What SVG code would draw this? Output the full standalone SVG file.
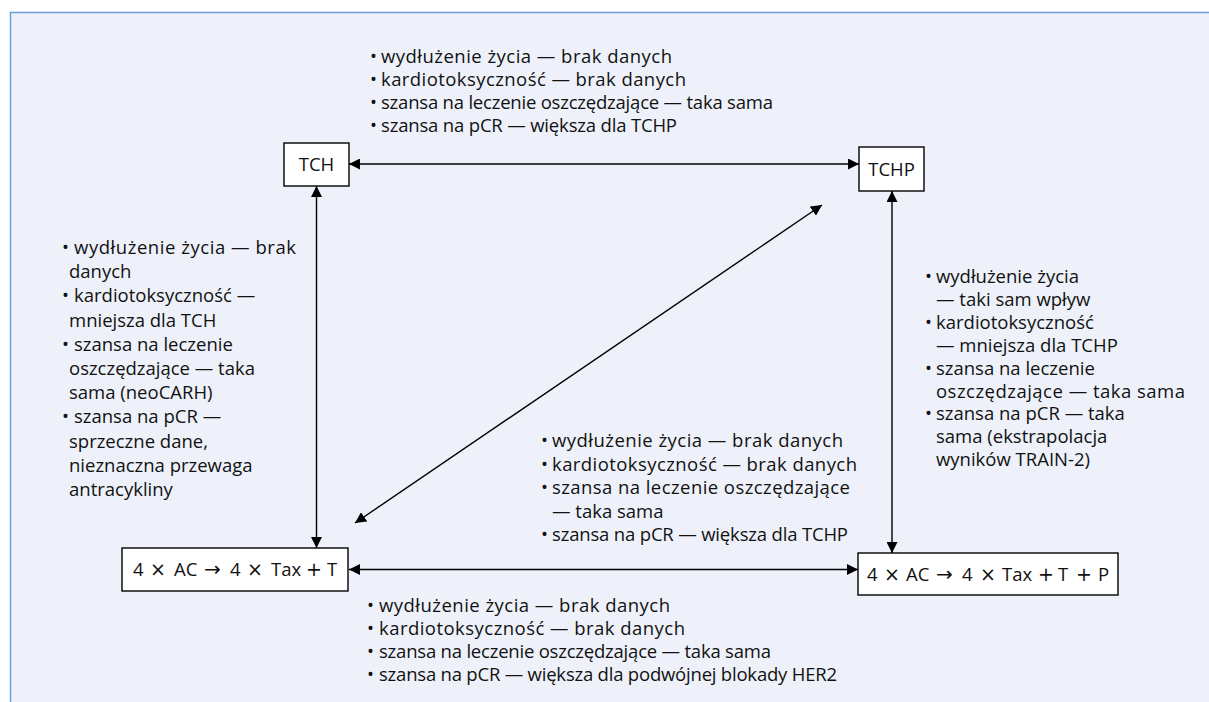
<svg xmlns="http://www.w3.org/2000/svg" width="1209" height="702" viewBox="0 0 1209 702">
  <defs>
    <marker id="arrow" markerUnits="userSpaceOnUse" markerWidth="12" markerHeight="11" refX="11" refY="5.5" orient="auto-start-reverse">
      <path d="M0,0 L11,5.5 L0,11 z" fill="#000"/>
    </marker>
    <style>
      text { font-family: "Open Sans", "Noto Sans", "Liberation Sans", sans-serif; font-size: 18.5px; fill: #111; }
      .box { fill: #fff; stroke: #000; stroke-width: 1.4; }
      .lbl { text-anchor: middle; }
      .op { font-family: "DejaVu Sans", sans-serif; font-size: 19px; }
      .arr { font-family: "DejaVu Sans", sans-serif; font-size: 20px; }
      .link { stroke: #000; stroke-width: 1.4; fill: none; marker-start: url(#arrow); marker-end: url(#arrow); }
    </style>
  </defs>

  <!-- panel background -->
  <rect x="10.5" y="12.5" width="1300" height="800" fill="#eef1fa" stroke="#6d9ed9" stroke-width="1.5"/>

  <!-- connectors -->
  <g id="connectors">
    <line class="link" x1="349" y1="164" x2="859" y2="164"/>
    <line class="link" x1="316.5" y1="186" x2="316.5" y2="548"/>
    <line class="link" x1="892" y1="191" x2="892" y2="553"/>
    <line class="link" x1="349" y1="569.5" x2="858" y2="569.5"/>
    <line class="link" x1="822" y1="205" x2="355" y2="523"/>
  </g>

  <!-- nodes -->
  <g id="node-tch">
    <rect class="box" x="284" y="143" width="65" height="43"/>
    <text class="lbl" x="316.5" y="171">TCH</text>
  </g>
  <g id="node-tchp">
    <rect class="box" x="859" y="147" width="65" height="44"/>
    <text class="lbl" x="891.5" y="175.5">TCHP</text>
  </g>
  <g id="node-ac-t">
    <rect class="box" x="122" y="548" width="226" height="43"/>
    <text y="576"><tspan x="133">4</tspan><tspan class="op" x="150">×</tspan><tspan x="174">AC</tspan><tspan class="arr" x="204">→</tspan><tspan x="230">4</tspan><tspan class="op" x="247">×</tspan><tspan x="271">Tax</tspan><tspan class="op" x="306">+</tspan><tspan x="327">T</tspan></text>
  </g>
  <g id="node-ac-tp">
    <rect class="box" x="858" y="553" width="260" height="42"/>
    <text y="580.5"><tspan x="867">4</tspan><tspan class="op" x="884">×</tspan><tspan x="906">AC</tspan><tspan class="arr" x="936">→</tspan><tspan x="962">4</tspan><tspan class="op" x="980">×</tspan><tspan x="1002">Tax</tspan><tspan class="op" x="1038">+</tspan><tspan x="1058">T</tspan><tspan class="op" x="1076">+</tspan><tspan x="1098">P</tspan></text>
  </g>

  <!-- TCH vs TCHP -->
  <g id="notes-top">
    <text x="370" y="62.5">•</text><text x="381" y="62.5" textLength="291" lengthAdjust="spacing">wydłużenie życia — brak danych</text>
    <text x="370" y="85.7">•</text><text x="381" y="85.7" textLength="305" lengthAdjust="spacing">kardiotoksyczność — brak danych</text>
    <text x="370" y="108.9">•</text><text x="381" y="108.9" textLength="392" lengthAdjust="spacing">szansa na leczenie oszczędzające — taka sama</text>
    <text x="370" y="132.1">•</text><text x="381" y="132.1" textLength="296" lengthAdjust="spacing">szansa na pCR — większa dla TCHP</text>
  </g>

  <!-- TCH vs AC→Tax+T -->
  <g id="notes-left">
    <text x="62" y="254">•</text><text x="74" y="254" textLength="222" lengthAdjust="spacing">wydłużenie życia — brak</text>
    <text x="69" y="278.2">danych</text>
    <text x="62" y="302.4">•</text><text x="74" y="302.4">kardiotoksyczność —</text>
    <text x="69" y="326.6">mniejsza dla TCH</text>
    <text x="62" y="350.8">•</text><text x="74" y="350.8">szansa na leczenie</text>
    <text x="69" y="375">oszczędzające — taka</text>
    <text x="69" y="399.2">sama (neoCARH)</text>
    <text x="62" y="423.4">•</text><text x="74" y="423.4">szansa na pCR —</text>
    <text x="69" y="447.6">sprzeczne dane,</text>
    <text x="69" y="471.8">nieznaczna przewaga</text>
    <text x="69" y="496">antracykliny</text>
  </g>

  <!-- TCHP vs AC→Tax+T+P -->
  <g id="notes-right">
    <text x="925" y="283">•</text><text x="936" y="283">wydłużenie życia</text>
    <text x="936" y="305.9">— taki sam wpływ</text>
    <text x="925" y="328.8">•</text><text x="936" y="328.8">kardiotoksyczność</text>
    <text x="936" y="351.7">— mniejsza dla TCHP</text>
    <text x="925" y="374.6">•</text><text x="936" y="374.6">szansa na leczenie</text>
    <text x="936" y="397.5" textLength="249" lengthAdjust="spacing">oszczędzające — taka sama</text>
    <text x="925" y="420.4">•</text><text x="936" y="420.4">szansa na pCR — taka</text>
    <text x="936" y="443.3">sama (ekstrapolacja</text>
    <text x="936" y="466.2">wyników TRAIN-2)</text>
  </g>

  <!-- TCHP vs AC→Tax+T (diagonal) -->
  <g id="notes-middle">
    <text x="541" y="447">•</text><text x="552" y="447" textLength="291" lengthAdjust="spacing">wydłużenie życia — brak danych</text>
    <text x="541" y="470.5">•</text><text x="552" y="470.5" textLength="305" lengthAdjust="spacing">kardiotoksyczność — brak danych</text>
    <text x="541" y="494">•</text><text x="552" y="494" textLength="298" lengthAdjust="spacing">szansa na leczenie oszczędzające</text>
    <text x="552" y="517.5">— taka sama</text>
    <text x="541" y="541">•</text><text x="552" y="541" textLength="296" lengthAdjust="spacing">szansa na pCR — większa dla TCHP</text>
  </g>

  <!-- AC→Tax+T vs AC→Tax+T+P -->
  <g id="notes-bottom">
    <text x="367" y="611.5">•</text><text x="379" y="611.5" textLength="291" lengthAdjust="spacing">wydłużenie życia — brak danych</text>
    <text x="367" y="634.7">•</text><text x="379" y="634.7" textLength="306" lengthAdjust="spacing">kardiotoksyczność — brak danych</text>
    <text x="367" y="657.9">•</text><text x="379" y="657.9" textLength="392" lengthAdjust="spacing">szansa na leczenie oszczędzające — taka sama</text>
    <text x="367" y="681.1">•</text><text x="379" y="681.1" textLength="458" lengthAdjust="spacing">szansa na pCR — większa dla podwójnej blokady HER2</text>
  </g>
</svg>
